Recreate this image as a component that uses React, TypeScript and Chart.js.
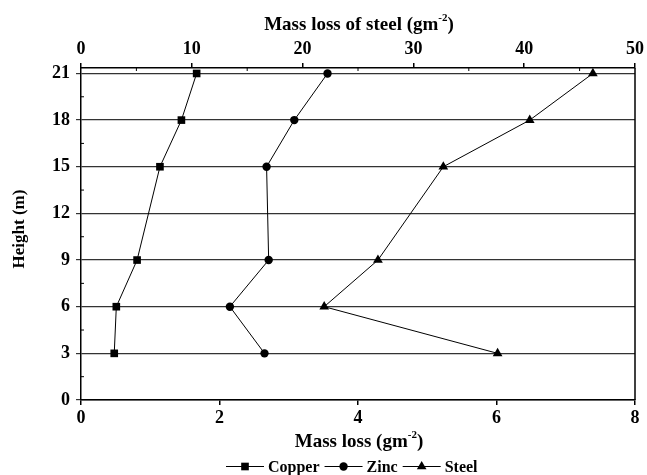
import React, { useEffect, useRef } from "react";
import { Chart, registerables } from "chart.js";
Chart.register(...registerables);

const heights = [3, 6, 9, 15, 18, 21];
const copper = [0.48, 0.51, 0.81, 1.14, 1.45, 1.67];
const zinc = [2.65, 2.15, 2.71, 2.68, 3.08, 3.56];
const steel = [37.6, 21.95, 26.8, 32.7, 40.5, 46.2];
const seriesNames = ["Copper", "Zinc", "Steel"];
const markerStyles = ["rect", "circle", "triangle"];
const markerRadii = [5.4, 4.2, 5.6];
const heightTicks = [0, 3, 6, 9, 12, 15, 18, 21];
const massTicks = [0, 2, 4, 6, 8];
const steelTicks = [0, 10, 20, 30, 40, 50];
const heightMinor = [1.5, 4.5, 7.5, 10.5, 13.5, 16.5, 19.5];
const steelMinor = [5, 15, 25, 35, 45];

const FAMILY = "'Liberation Serif', 'Times New Roman', serif";

function drawSup(ctx: CanvasRenderingContext2D, base: string, sup: string, tail: string, cx: number, baseline: number, size: number) {
  ctx.save();
  ctx.fillStyle = "#000";
  ctx.textBaseline = "alphabetic";
  ctx.textAlign = "left";
  const f1 = `bold ${size}px ${FAMILY}`;
  const f2 = `bold ${Math.round(size * 0.58)}px ${FAMILY}`;
  ctx.font = f1;
  const w1 = ctx.measureText(base).width;
  const w3 = ctx.measureText(tail).width;
  ctx.font = f2;
  const w2 = ctx.measureText(sup).width;
  let x = cx - (w1 + w2 + w3) / 2;
  ctx.font = f1;
  ctx.fillText(base, x, baseline);
  x += w1;
  ctx.font = f2;
  ctx.fillText(sup, x, baseline - size * 0.45);
  x += w2;
  ctx.font = f1;
  ctx.fillText(tail, x, baseline);
  ctx.restore();
}

function drawMarker(ctx: CanvasRenderingContext2D, style: string, x: number, y: number, r: number) {
  ctx.beginPath();
  if (style === "rect") {
    const s = Math.SQRT1_2 * r;
    ctx.rect(x - s, y - s, 2 * s, 2 * s);
  } else if (style === "circle") {
    ctx.arc(x, y, r, 0, Math.PI * 2);
  } else {
    ctx.moveTo(x, y - r);
    ctx.lineTo(x + r * Math.sin((2 * Math.PI) / 3), y - r * Math.cos((2 * Math.PI) / 3));
    ctx.lineTo(x + r * Math.sin((4 * Math.PI) / 3), y - r * Math.cos((4 * Math.PI) / 3));
    ctx.closePath();
  }
  ctx.fill();
}

const decorPlugin = {
  id: "decor",
  afterDraw(chart: any) {
    const ctx: CanvasRenderingContext2D = chart.ctx;
    const a = chart.chartArea;
    const ys = chart.scales.y;
    const x2 = chart.scales.x2;
    ctx.save();
    ctx.strokeStyle = "#000";
    ctx.lineWidth = 1.5;
    ctx.beginPath();
    ctx.moveTo(a.right, a.top);
    ctx.lineTo(a.right, a.bottom);
    ctx.stroke();
    ctx.lineWidth = 1;
    ctx.beginPath();
    heightMinor.forEach((v) => {
      const py = ys.getPixelForValue(v);
      ctx.moveTo(a.left, py);
      ctx.lineTo(a.left + 3, py);
    });
    steelMinor.forEach((v) => {
      const px = x2.getPixelForValue(v);
      ctx.moveTo(px, a.top);
      ctx.lineTo(px, a.top + 3);
    });
    ctx.stroke();

    const cx = (a.left + a.right) / 2 + 1;
    drawSup(ctx, "Mass loss of steel (gm", "-2", ")", cx, 29.5, 19);
    drawSup(ctx, "Mass loss (gm", "-2", ")", cx, 446.5, 19);

    ctx.save();
    ctx.translate(24, 229);
    ctx.rotate(-Math.PI / 2);
    ctx.font = `bold 17px ${FAMILY}`;
    ctx.fillStyle = "#000";
    ctx.textAlign = "center";
    ctx.textBaseline = "alphabetic";
    ctx.fillText("Height (m)", 0, 0);
    ctx.restore();

    // legend
    ctx.font = `bold 16px ${FAMILY}`;
    ctx.textBaseline = "alphabetic";
    ctx.textAlign = "left";
    ctx.fillStyle = "#000";
    const lb = 471.5;
    const ly = 466.5;
    let lx = 226;
    seriesNames.forEach((name, i) => {
      ctx.beginPath();
      ctx.lineWidth = 1;
      ctx.moveTo(lx, ly);
      ctx.lineTo(lx + 38, ly);
      ctx.stroke();
      drawMarker(ctx, markerStyles[i], lx + 19, ly, markerRadii[i]);
      lx += 42;
      ctx.fillText(name, lx, lb);
      lx += ctx.measureText(name).width + 5;
    });
    ctx.restore();
  },
};

export default function App() {
  const ref = useRef<HTMLCanvasElement | null>(null);
  useEffect(() => {
    if (!ref.current) return;
    const tickFont = { family: FAMILY, size: 18, weight: "bold" as const };
    const mk = (vals: number[], i: number, axis: string) => ({
      label: seriesNames[i],
      data: vals.map((v, k) => ({ x: v, y: heights[k] })),
      xAxisID: axis,
      yAxisID: "y",
      showLine: true,
      borderColor: "#000",
      backgroundColor: "#000",
      borderWidth: 1,
      pointStyle: markerStyles[i],
      pointRadius: markerRadii[i],
      pointBorderWidth: 0,
      pointBackgroundColor: "#000",
      tension: 0,
    });
    const chart = new Chart(ref.current, {
      type: "scatter",
      data: {
        datasets: [mk(copper, 0, "x"), mk(zinc, 1, "x"), mk(steel, 2, "x2")],
      },
      plugins: [decorPlugin],
      options: {
        animation: false,
        responsive: false,
        devicePixelRatio: 1,
        layout: { padding: { left: 0, right: 11, top: 0, bottom: 0 } },
        plugins: { legend: { display: false }, tooltip: { enabled: false } },
        scales: {
          x: {
            type: "linear",
            position: "bottom",
            min: 0,
            max: 8,
            afterBuildTicks: (s: any) => { s.ticks = massTicks.map((v) => ({ value: v })); },
            afterFit: (s: any) => { s.height = 75; },
            grid: { drawOnChartArea: false, drawTicks: true, tickLength: 5, color: "#000", lineWidth: 1.5 },
            border: { display: true, color: "#000", width: 1.5 },
            ticks: { font: tickFont, color: "#000", padding: 3, maxRotation: 0 },
          },
          x2: {
            type: "linear",
            position: "top",
            min: 0,
            max: 50,
            afterBuildTicks: (s: any) => { s.ticks = steelTicks.map((v) => ({ value: v })); },
            afterFit: (s: any) => { s.height = 68; },
            grid: { drawOnChartArea: false, drawTicks: true, tickLength: 5, color: "#000", lineWidth: 1.5 },
            border: { display: true, color: "#000", width: 1.5 },
            ticks: { font: tickFont, color: "#000", padding: 3, maxRotation: 0 },
          },
          y: {
            type: "linear",
            position: "left",
            min: 0,
            max: 21.35,
            afterBuildTicks: (s: any) => { s.ticks = heightTicks.map((v) => ({ value: v })); },
            afterFit: (s: any) => { s.width = 81; },
            grid: { drawOnChartArea: true, drawTicks: true, tickLength: 5, color: "#333", lineWidth: 1.2 },
            border: { display: true, color: "#000", width: 1.5 },
            ticks: { font: tickFont, color: "#000", padding: 6 },
          },
        },
      },
    });
    return () => chart.destroy();
  }, []);
  return (
    <div style={{ position: "fixed", left: 0, top: 0, width: 647, height: 475, background: "#fff" }}>
      <canvas ref={ref} width={647} height={475} style={{ width: 647, height: 475, display: "block" }} />
    </div>
  );
}
